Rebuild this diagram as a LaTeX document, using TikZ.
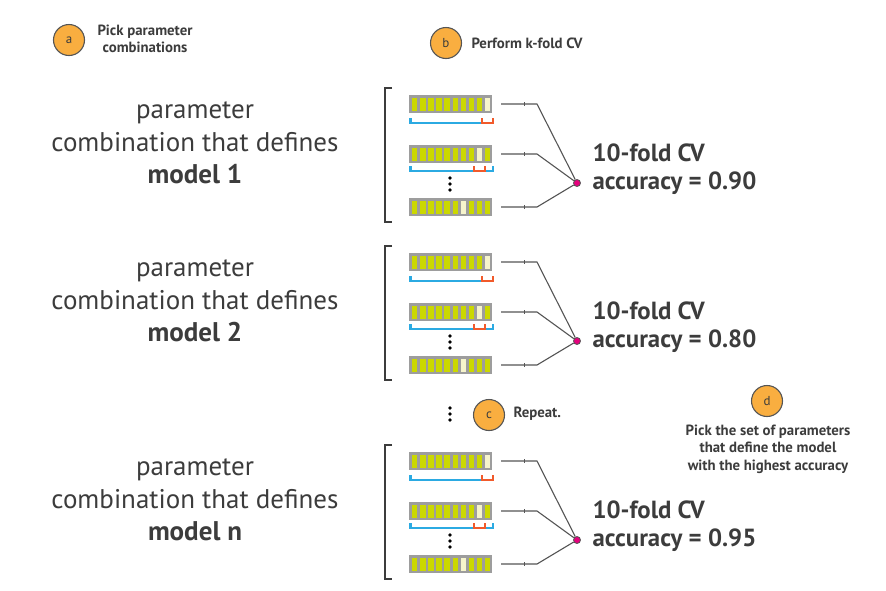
\documentclass[tikz,border=0pt]{standalone}
\usepackage{fontspec}
\setmainfont{PT Sans}
\definecolor{txt}{HTML}{3C3C3C}
\definecolor{bargray}{HTML}{9D9D9D}
\definecolor{lime}{HTML}{CBD800}
\definecolor{cream}{HTML}{F6F4CC}
\definecolor{cvblue}{HTML}{2BAAE2}
\definecolor{cvorange}{HTML}{F15A2B}
\definecolor{dotmag}{HTML}{E5007D}
\definecolor{linegray}{HTML}{555555}
\definecolor{badge}{HTML}{F9AE40}
\tikzset{
  badgec/.style={circle, fill=badge, draw=linegray, line width=1.1pt, minimum size=31pt, inner sep=0pt, font=\fontsize{13}{13}\selectfont, text=txt},
  steplabel/.style={font=\bfseries\fontsize{14.8}{17.5}\selectfont, text=txt},
  modeltext/.style={align=center, font=\fontsize{27}{32.5}\selectfont, text=txt},
  acctext/.style={anchor=west, align=left, font=\bfseries\fontsize{24.8}{28}\selectfont, text=txt},
  conn/.style={draw=linegray, line width=1.1pt},
  tickmark/.style={inner sep=0pt, minimum width=1.2pt, minimum height=3.5pt, fill=linegray},
  cvdot/.style={circle, fill=dotmag, draw=linegray, line width=0.8pt, minimum size=7pt, inner sep=0pt},
  brk/.style={draw=txt, line width=2.4pt},
  vdot/.style={circle, fill=black, inner sep=0pt, minimum size=3.6pt},
  trainseg/.style={draw=cvblue, line width=2.8pt},
  testseg/.style={draw=cvorange, line width=2.8pt}
}
% bar: #1 x, #2 y top, #3 highlighted cell, #4 name prefix
\newcommand\kfbar[4]{%
  \fill[bargray] (#1,#2) rectangle ++(83,18);
  \foreach \i in {1,...,10}{%
    \ifnum\i=#3\relax\def\cc{cream}\else\def\cc{lime}\fi
    \fill[\cc] ({#1+3+(\i-1)*8.1},{#2+2.5}) rectangle ++(5.4,13);
  }%
  \coordinate (#4r) at ({#1+92},{#2+9});
  \coordinate (#4k) at ({#1+128},{#2+9});
}
% one block: #1 y offset, #2 name, #3 model text, #4 accuracy
\newcommand\cvblock[4]{%
  \begin{scope}[yshift=-#1pt]
  \node[modeltext] (#2txt) at (195,143) {parameter\\combination that defines\\\textbf{#3}};
  \draw[brk] (392,88) -- (385,88) -- (385,222) -- (392,222);
  \kfbar{409}{95}{10}{#2a}
  \kfbar{409}{145}{9}{#2b}
  \kfbar{409}{198}{7}{#2c}
  % train/test markers
  \draw[trainseg] (410.5,118) -- (410.5,123) -- (481,123);
  \draw[testseg] (482,118) -- (482,123) -- (493,123) -- (493,118);
  \draw[trainseg] (410.5,166) -- (410.5,171) -- (473,171);
  \draw[testseg] (474,166) -- (474,171) -- (485,171) -- (485,166);
  \draw[trainseg] (486,171) -- (493,171) -- (493,166);
  \node[vdot] (#2d1) at (450,178) {};
  \node[vdot] (#2d2) at (450,184) {};
  \node[vdot] (#2d3) at (450,190) {};
  \node[cvdot] (#2dot) at (577,183) {};
  \draw[conn] (#2ar) -- node[tickmark, pos=0.66]{} (#2ak) -- (#2dot);
  \draw[conn] (#2br) -- node[tickmark, pos=0.66]{} (#2bk) -- (#2dot);
  \draw[conn] (#2cr) -- node[tickmark, pos=0.66]{} (#2ck) -- (#2dot);
  \node[acctext] (#2acc) at (589,169) {10-fold CV\\accuracy = #4};
  \end{scope}
}
\begin{document}
\begin{tikzpicture}[x=1pt,y=-1pt]
\useasboundingbox (0,0) rectangle (886,590);
\node[badgec] (ba) at (69,40) {a};
\node[steplabel, anchor=west, align=center] (la) at (94,39) {Pick parameter\\combinations};
\node[badgec] (bb) at (446,43) {b};
\node[steplabel, anchor=west] (lb) at (468,43) {Perform k-fold CV};
\cvblock{0}{m1}{model 1}{0.90}
\cvblock{158}{m2}{model 2}{0.80}
\cvblock{357}{m3}{model n}{0.95}
\node[vdot] (rd1) at (450,408) {};
\node[vdot] (rd2) at (450,414) {};
\node[vdot] (rd3) at (450,420) {};
\node[badgec] (bc) at (489,415) {c};
\node[steplabel, anchor=west] (lc) at (510,414) {Repeat.};
\node[badgec] (bd) at (767,401) {d};
\node[steplabel, align=center] (ld) at (768,449) {Pick the set of parameters\\that define the model\\with the highest accuracy};
\end{tikzpicture}
\end{document}
